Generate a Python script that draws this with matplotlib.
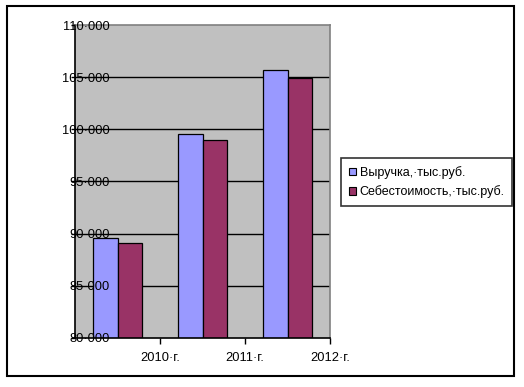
import matplotlib.pyplot as plt
import matplotlib.patches as mpatches
import numpy as np

plt.rcParams['font.family'] = ['Liberation Sans', 'DejaVu Sans']

# Data
years = ['2010\u00b7г.', '2011\u00b7г.', '2012\u00b7г.']
revenue = [89600, 99600, 105650]
cost = [89100, 99000, 104950]
series_names = ['Выручка,\u00b7тыс.руб.', 'Себестоимость,\u00b7тыс.руб.']
y_ticks = [80000, 85000, 90000, 95000, 100000, 105000, 110000]
y_tick_labels = ['80\u00b7000', '85\u00b7000', '90\u00b7000', '95\u00b7000',
                 '100\u00b7000', '105\u00b7000', '110\u00b7000']

W, H = 524, 387
fig = plt.figure(figsize=(W / 100, H / 100), dpi=100)
fig.patch.set_facecolor('white')

# outer frame
fig.add_artist(mpatches.Rectangle((7 / W, 1 - 376 / H), 507 / W, 370 / H,
                                  transform=fig.transFigure, fill=False,
                                  edgecolor='black', lw=1.5))

ax = fig.add_axes([75 / W, 1 - 338 / H, 255 / W, 313 / H])
ax.set_facecolor('#C0C0C0')
ax.set_axisbelow(False)  # tick labels drawn over the bars

# gridlines below the bars
for yv in y_ticks[1:-1]:
    ax.axhline(yv, color='black', lw=1, zorder=1)

x = np.arange(len(years))
w = 0.29
ax.bar(x - w / 2, revenue, w, color='#9999FF', edgecolor='black', lw=0.9, zorder=2)
ax.bar(x + w / 2, cost, w, color='#993366', edgecolor='black', lw=0.9, zorder=2)

ax.set_ylim(80000, 110000)
ax.set_xlim(-0.5, 2.5)
ax.set_yticks(y_ticks)
ax.set_yticklabels(y_tick_labels)
ax.set_xticks(x + 0.5)
ax.set_xticklabels(years)

ax.tick_params(axis='y', length=3, width=1, pad=-28, labelsize=9.3)
for lbl in ax.get_yticklabels():
    lbl.set_horizontalalignment('right')
ax.tick_params(axis='x', length=4, width=1, pad=6, labelsize=9.3)

ax.spines['left'].set_color('black')
ax.spines['bottom'].set_color('black')
ax.spines['top'].set_color('#808080')
ax.spines['right'].set_color('#808080')
for s in ax.spines.values():
    s.set_linewidth(1.2)

handles = [mpatches.Patch(facecolor='#9999FF', edgecolor='black', lw=0.8),
           mpatches.Patch(facecolor='#993366', edgecolor='black', lw=0.8)]
leg = fig.legend(handles, series_names, loc='center left',
                 bbox_to_anchor=(341 / W, 1 - 182 / H), fontsize=9,
                 frameon=True, fancybox=False, shadow=False,
                 handlelength=0.6, handleheight=0.6, handletextpad=0.3,
                 borderpad=0.6, labelspacing=0.5, borderaxespad=0)
leg.get_frame().set_edgecolor('black')
leg.get_frame().set_linewidth(1.2)

fig.savefig('out.png', dpi=100)
